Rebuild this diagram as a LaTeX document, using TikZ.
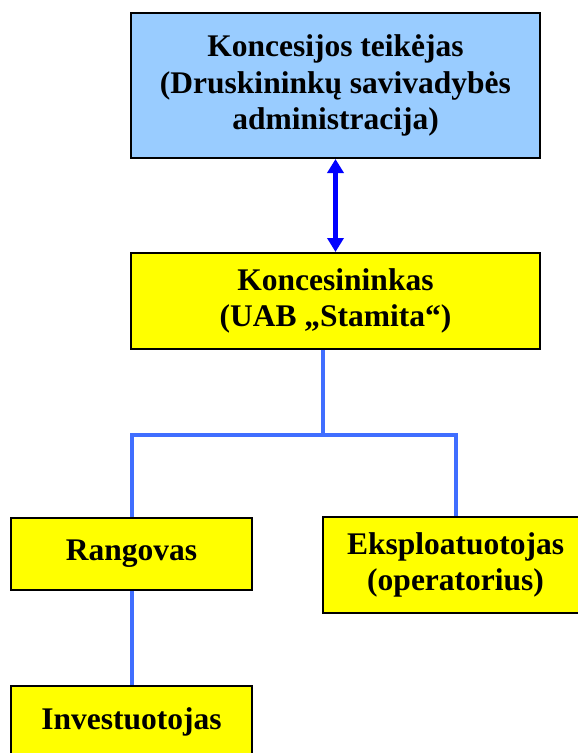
\documentclass[tikz,border=0pt]{standalone}
\usepackage{fontspec}
\setmainfont{Liberation Serif}
\usetikzlibrary{arrows.meta}
\definecolor{topblue}{RGB}{153,204,255}
\definecolor{boxyellow}{RGB}{255,255,0}
\definecolor{linkblue}{RGB}{64,110,255}
\definecolor{arrowblue}{RGB}{0,0,255}
\begin{document}
\begin{tikzpicture}[x=1pt,y=1pt,
  box/.style={draw=black, line width=2pt, align=center, inner sep=0pt,
    font=\fontsize{31.5}{36.5}\selectfont\bfseries},
  link/.style={draw=linkblue, line width=4pt},
  duo/.style={draw=arrowblue, line width=5pt, {Triangle[length=14pt,width=16pt]}-{Triangle[length=14pt,width=16pt]}}]
\useasboundingbox (0,0) rectangle (578,-753);
\clip (0,0) rectangle (578,-753);
\node[box, fill=topblue, minimum width=409pt, minimum height=145pt] (top) at (335.5,-85.5)
  {Koncesijos teikėjas\\(Druskininkų savivadybės\\administracija)};
\node[box, fill=boxyellow, minimum width=409pt, minimum height=96pt] (kon) at (335.5,-301)
  {Koncesininkas\\(UAB „Stamita“)};
\node[box, fill=boxyellow, minimum width=241pt, minimum height=72pt] (ran) at (131.5,-554)
  {Rangovas};
\node[box, fill=boxyellow, minimum width=265pt, minimum height=96pt] (eks) at (455.6,-565)
  {Eksploatuotojas\\(operatorius)};
\node[box, fill=boxyellow, minimum width=241pt, minimum height=72pt] (inv) at (131.5,-722)
  {Investuotojas};
\coordinate (j) at (323,-434.5);
\draw[duo] (top.south) -- (kon.north);
\draw[link] (kon.south -| j) -- (j);
\draw[link, line join=miter] (ran.north) -- (ran.north |- j) -- (eks.north |- j) -- (eks.north);
\draw[link] (ran.south) -- (inv.north);
\end{tikzpicture}
\end{document}
